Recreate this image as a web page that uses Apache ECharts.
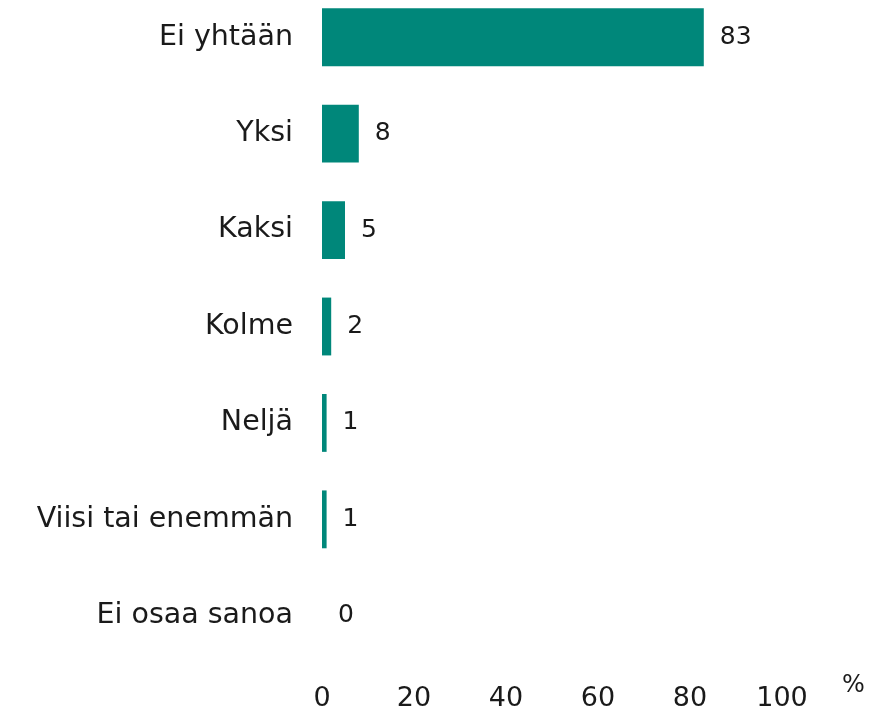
<!DOCTYPE html>
<html>
<head>
<meta charset="utf-8">
<script src="https://cdn.jsdelivr.net/npm/echarts@6/dist/echarts.min.js"></script>
<style>
  html, body { margin: 0; padding: 0; background: #fff; }
  #chart { width: 887px; height: 713px; }
</style>
</head>
<body>
<div id="chart"></div>
<script>
// vastausvaihtoehdot ylhäältä alas
const categories = ['Ei yhtään', 'Yksi', 'Kaksi', 'Kolme', 'Neljä', 'Viisi tai enemmän', 'Ei osaa sanoa']
const values = [83, 8, 5, 2, 1, 1, 0]
const xTicks = [0, 20, 40, 60, 80, 100]

const fontFamily = '"DejaVu Sans", sans-serif'
const textColor = '#1a1a1a'
const chart = echarts.init(document.getElementById('chart'))

const option = {
  animation: false,
  grid: {
    left: 322,
    right: 105,
    top: -11,
    bottom: 49,
    outerBoundsMode: 'none'
  },
  xAxis: {
    type: 'value',
    min: xTicks[0],
    max: xTicks[xTicks.length - 1],
    interval: 20,
    splitLine: { show: false },
    axisLine: { show: false },
    axisTick: { show: false },
    axisLabel: {
      margin: 21,
      fontSize: 27,
      color: textColor,
      fontFamily: fontFamily
    },
    name: '%',
    nameLocation: 'end',
    nameGap: 60,
    nameTextStyle: {
      fontSize: 24,
      color: textColor,
      fontFamily: fontFamily,
      verticalAlign: 'top',
      padding: [10, 0, 0, 0]
    }
  },
  yAxis: {
    type: 'category',
    data: categories,
    inverse: true,
    axisLine: { show: false },
    axisTick: { show: false },
    axisLabel: {
      margin: 29,
      fontSize: 28.5,
      color: textColor,
      fontFamily: fontFamily
    }
  },
  series: [
    {
      type: 'bar',
      data: values,
      barCategoryGap: '40%',
      itemStyle: { color: '#00877a' },
      label: {
        show: true,
        position: 'right',
        distance: 16,
        fontSize: 25,
        color: textColor,
        fontFamily: fontFamily
      }
    }
  ]
}

chart.setOption(option)
</script>
</body>
</html>
